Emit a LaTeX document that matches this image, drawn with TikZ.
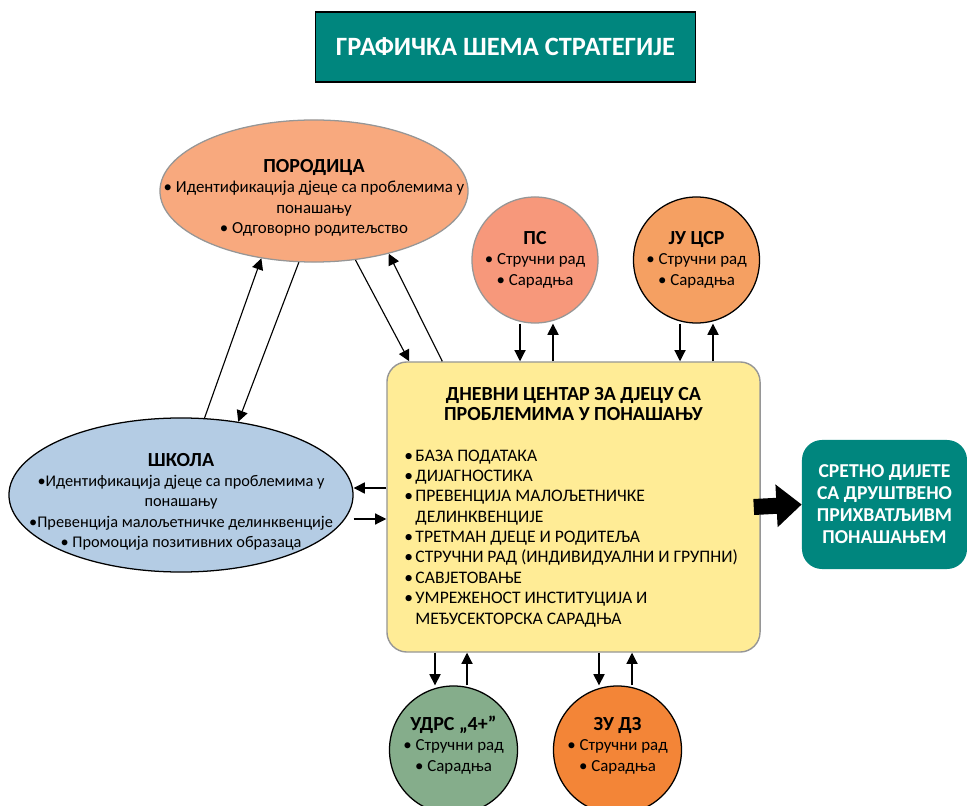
\documentclass[tikz,border=0pt]{standalone}
\usepackage{fontspec}
\setmainfont{Carlito}
\usepackage{tikz}
\usetikzlibrary{arrows.meta}
\usetikzlibrary{shapes.geometric}
\usetikzlibrary{calc, positioning}

\definecolor{tirkiz}{RGB}{0,134,126}
\definecolor{porodicaboja}{RGB}{248,169,126}
\definecolor{psboja}{RGB}{247,152,123}
\definecolor{csrboja}{RGB}{245,160,98}
\definecolor{centarboja}{RGB}{255,236,150}
\definecolor{skolaboja}{RGB}{180,204,228}
\definecolor{udrsboja}{RGB}{133,173,139}
\definecolor{dzboja}{RGB}{243,133,55}
\definecolor{ivica}{RGB}{150,150,150}

% text centred in a shape, with no size of its own
\newcommand{\sredina}[2][0pt]{\raisebox{#1}[0pt][0pt]{\makebox[0pt]{\begin{tabular}{@{}c@{}}#2\end{tabular}}}}
\newcommand{\glava}[1]{{\fontsize{14.2}{14.5}\selectfont\bfseries #1}}
\newcommand{\stavka}[1]{\par\hangindent=0.28cm\hangafter=1\makebox[0.28cm][l]{\textbullet}#1}

\tikzset{
  naslovbox/.style={draw=black, line width=1pt, fill=tirkiz, text=white,
    font=\fontsize{18.8}{20}\selectfont\bfseries, minimum width=9.5cm, minimum height=1.75cm},
  elipsa/.style={ellipse, draw, line width=0.9pt, inner sep=0pt},
  krug/.style={circle, draw, line width=0.9pt, inner sep=0pt, minimum size=3.15cm},
  centarbox/.style={draw=ivica, line width=1pt, fill=centarboja, rounded corners=0.5cm,
    minimum width=9.325cm, minimum height=7.25cm, text width=8.46cm, align=left},
  ciljbox/.style={fill=tirkiz, text=white, rounded corners=0.5cm, align=center,
    font=\fontsize{14}{15.6}\selectfont\bfseries, minimum width=4.125cm, minimum height=3.225cm},
  strelica/.style={line width=0.8pt, -{Triangle[length=0.28cm,width=0.28cm]}},
  blok/.style={line width=0.4cm, -{Triangle[length=0.63cm,width=1.03cm]}}
}

\begin{document}
\begin{tikzpicture}[x=0.025cm, y=-0.025cm, font=\fontsize{12}{14.5}\selectfont]
	\useasboundingbox (0,0) rectangle (967,806);
	\clip (0,0) rectangle (967,806);

	\node[naslovbox] (naslov) at (505.5,47) {ГРАФИЧКА ШЕМА СТРАТЕГИЈЕ};

	\node[elipsa, fill=porodicaboja, draw=ivica, minimum width=7.7cm, minimum height=3.55cm] (porodica) at (314,191)
		{\sredina[-0.3cm]{\glava{ПОРОДИЦА}\\ \textbullet\ Идентификација дјеце са проблемима у\\ понашању\\ \textbullet\ Одговорно родитељство}};
	\node[elipsa, fill=skolaboja, minimum width=8.6cm, minimum height=3.85cm] (skola) at (181,495)
		{\fontsize{11.6}{14.5}\selectfont\sredina[-0.3cm]{\glava{ШКОЛА}\\ \textbullet Идентификација дјеце са проблемима у\\ понашању\\ \textbullet Превенција малољетничке делинквенције\\ \textbullet\ Промоција позитивних образаца}};

	\node[krug, fill=psboja, draw=ivica] (ps) at (535,260)
		{\sredina[-0.12cm]{\glava{ПС}\\ \textbullet\ Стручни рад\\ \textbullet\ Сарадња}};
	\node[krug, fill=csrboja] (csr) at (696.5,260)
		{\sredina[-0.12cm]{\glava{ЈУ ЦСР}\\ \textbullet\ Стручни рад\\ \textbullet\ Сарадња}};
	\node[krug, fill=udrsboja, minimum size=3.2cm] (udrs) at (453.5,750)
		{\sredina[-0.02cm]{\glava{УДРС „4+”}\\ \textbullet\ Стручни рад\\ \textbullet\ Сарадња}};
	\node[krug, fill=dzboja, minimum size=3.2cm] (dz) at (617.5,750)
		{\sredina[-0.02cm]{\glava{ЗУ ДЗ}\\ \textbullet\ Стручни рад\\ \textbullet\ Сарадња}};

	\node[centarbox] (centar) at (573.5,507) {%
		\spaceskip=0pt \xspaceskip=0pt
		{\centering\glava{ДНЕВНИ ЦЕНТАР ЗА ДЈЕЦУ СА\\ ПРОБЛЕМИМА У ПОНАШАЊУ}\par}
		\vspace{0.5cm}
		\raggedright\fontsize{12.5}{14.5}\selectfont
		\stavka{БАЗА ПОДАТАКА}
		\stavka{ДИЈАГНОСТИКА}
		\stavka{ПРЕВЕНЦИЈА МАЛОЉЕТНИЧКЕ\newline ДЕЛИНКВЕНЦИЈЕ}
		\stavka{ТРЕТМАН ДЈЕЦЕ И РОДИТЕЉА}
		\stavka{СТРУЧНИ РАД (ИНДИВИДУАЛНИ И ГРУПНИ)}
		\stavka{САВЈЕТОВАЊЕ}
		\stavka{УМРЕЖЕНОСТ ИНСТИТУЦИЈА И\newline МЕЂУСЕКТОРСКА САРАДЊА}\par};

	\node[ciljbox] (cilj) at (884.5,504.5) {СРЕТНО ДИЈЕТЕ\\ СА ДРУШТВЕНО\\ ПРИХВАТЉИВМ\\ ПОНАШАЊЕМ};

	% porodica - skola - centar
	\draw[strelica] (skola.73) -- (porodica.232);
	\draw[strelica] (porodica.258) -- (skola.52);
	\draw[strelica] (porodica.301) -- ($(centar.north west)+(23,0)$);
	\draw[strelica] ($(centar.north west)+(56,0)$) -- (porodica.320);

	\coordinate (s1) at ($(centar.west)+(0,-19)$);
	\coordinate (s2) at ($(centar.west)+(0,12)$);
	\draw[strelica] (s1) -- (s1 -| skola.east);
	\draw[strelica] (s2 -| skola.east) -- (s2);

	% gornji krugovi
	\coordinate (ps1) at ($(ps.south)+(-15,0)$);
	\coordinate (ps2) at ($(ps.south)+(18,0)$);
	\draw[strelica] (ps1) -- (ps1 |- centar.north);
	\draw[strelica] (ps2 |- centar.north) -- (ps2);
	\coordinate (csr1) at ($(csr.south)+(-16.5,0)$);
	\coordinate (csr2) at ($(csr.south)+(16.5,0)$);
	\draw[strelica] (csr1) -- (csr1 |- centar.north);
	\draw[strelica] (csr2 |- centar.north) -- (csr2);

	% donji krugovi
	\coordinate (u1) at ($(udrs.north)+(-18.5,0)$);
	\coordinate (u2) at ($(udrs.north)+(13.5,0)$);
	\draw[strelica] (u1 |- centar.south) -- (u1);
	\draw[strelica] (u2) -- (u2 |- centar.south);
	\coordinate (dz1) at ($(dz.north)+(-18.5,0)$);
	\coordinate (dz2) at ($(dz.north)+(14.5,0)$);
	\draw[strelica] (dz1 |- centar.south) -- (dz1);
	\draw[strelica] (dz2) -- (dz2 |- centar.south);

	\draw[blok] ($(centar.east)+(-7,0)$) -- (cilj.west);
\end{tikzpicture}
\end{document}
